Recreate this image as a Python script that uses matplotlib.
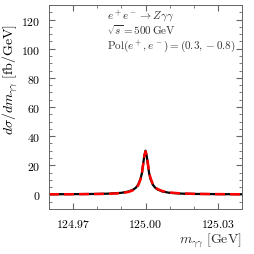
#!/usr/bin/env python

import numpy as np
import matplotlib
matplotlib.use('Agg')
import matplotlib.pyplot as plt
from matplotlib.ticker import MultipleLocator, FixedLocator

# values (m_gamgam in GeV, dsigma/dm in fb/GeV)
m_full = [124.96, 124.97, 124.98, 124.985, 124.99, 124.993, 124.995, 124.996,
          124.997, 124.998, 124.9985, 124.999, 124.9995, 125.0, 125.0005,
          125.001, 125.0015, 125.002, 125.003, 125.004, 125.005, 125.007,
          125.01, 125.015, 125.02, 125.03, 125.04]
xs_full = [0.1, 0.2, 0.35, 0.55, 1.1, 2.0, 3.4, 4.6, 6.8, 11.0, 14.5, 20.5,
           26.5, 30.0, 26.5, 20.5, 14.5, 11.0, 6.8, 4.6, 3.4, 2.0, 1.1, 0.55,
           0.35, 0.2, 0.1]

m_appr = [124.96, 124.97, 124.98, 124.985, 124.99, 124.993, 124.995, 124.996,
          124.997, 124.998, 124.9985, 124.999, 124.9995, 125.0, 125.0005,
          125.001, 125.0015, 125.002, 125.003, 125.004, 125.005, 125.007,
          125.01, 125.015, 125.02, 125.03, 125.04]
xs_appr = [0.1, 0.15, 0.3, 0.45, 0.9, 1.7, 3.0, 4.2, 6.4, 10.6, 14.2, 20.2,
           26.2, 29.5, 26.8, 21.0, 15.2, 11.6, 7.3, 5.0, 3.7, 2.3, 1.3, 0.65,
           0.4, 0.2, 0.1]

plt.rcParams['mathtext.fontset'] = 'cm'
plt.rcParams['font.family'] = 'serif'
plt.rcParams['font.serif'] = ['DejaVu Serif']

fig = plt.figure(figsize=(2.54, 2.55), dpi=100)
ax = fig.add_axes([49/254., 45/255., 193/254., 204/255.])

ax.plot(m_full, xs_full, color='black', lw=1.6)
ax.plot(m_appr, xs_appr, color='red', lw=1.8, ls=(0, (4, 2)))

ax.set_xlim(124.96, 125.04)
ax.set_ylim(-10, 130)
ax.xaxis.set_major_locator(FixedLocator([124.97, 125.00, 125.03]))
ax.xaxis.set_minor_locator(MultipleLocator(0.01))
ax.yaxis.set_major_locator(MultipleLocator(20))
ax.yaxis.set_minor_locator(MultipleLocator(5))
ax.set_xticklabels([r'$124.97$', r'$125.00$', r'$125.03$'])
ax.set_yticklabels([r'$%d$' % v for v in ax.get_yticks()])
ax.tick_params(which='both', direction='in', top=True, right=True,
               labelsize=8.5, color='#666666')
ax.tick_params(axis='x', pad=6)
ax.tick_params(axis='y', pad=6)
ax.tick_params(which='major', length=4)
ax.tick_params(which='minor', length=2)
for sp in ax.spines.values():
    sp.set_color('#666666')
    sp.set_linewidth(0.7)

ax.set_ylabel(r'$d\sigma/dm_{\gamma\gamma}\ [\mathrm{fb/GeV}]$', fontsize=10)
ax.yaxis.set_label_coords(-0.2, 0.64)
ax.yaxis.label.set_verticalalignment('center')
ax.set_xlabel(r'$m_{\gamma\gamma}\ [\mathrm{GeV}]$', fontsize=10, color='#333333')
ax.xaxis.set_label_coords(1.0, -0.15)
ax.xaxis.label.set_horizontalalignment('right')
ax.xaxis.label.set_verticalalignment('center')

ax.text(0.3, 0.99, r'$e^+e^-\rightarrow Z\gamma\gamma$', transform=ax.transAxes,
        fontsize=8, va='top', color='#333333')
ax.text(0.3, 0.915, r'$\sqrt{s}=500\,\mathrm{GeV}$', transform=ax.transAxes,
        fontsize=8, va='top', color='#333333')
ax.text(0.3, 0.84, r'$\mathrm{Pol}(e^+,e^-)=(0.3,-0.8)$', transform=ax.transAxes,
        fontsize=8, va='top', color='#333333')

fig.savefig('out.png', dpi=100)
